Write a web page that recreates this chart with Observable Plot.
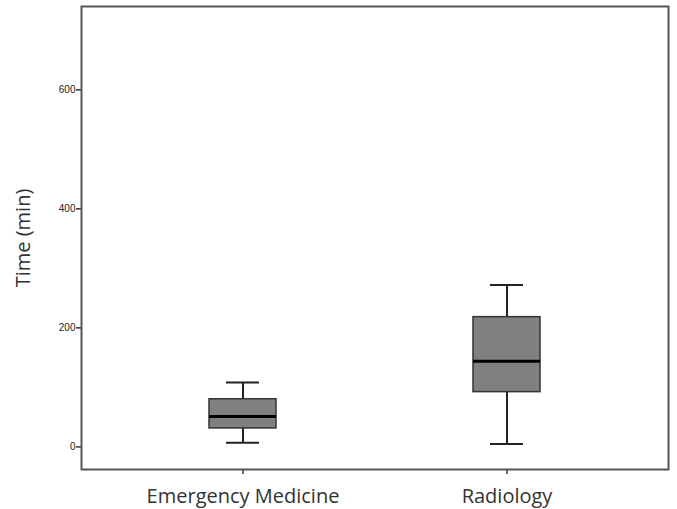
<!DOCTYPE html>
<html>
<head>
<meta charset="utf-8">
<script src="https://cdn.jsdelivr.net/npm/d3@7"></script>
<script src="https://cdn.jsdelivr.net/npm/@observablehq/plot@0.6"></script>
<style>
  html, body { margin: 0; padding: 0; background: #fff; }
  #chart svg { display: block; }
</style>
</head>
<body>
<div id="chart"></div>
<script>
const categories = ["Emergency Medicine", "Radiology"];
const whiskerLow = [7, 5];
const q1 = [31, 92];
const median = [51, 144];
const q3 = [80, 218];
const whiskerHigh = [108, 272];
const yTicks = [0, 200, 400, 600];
const yLabel = "Time (min)";

const data = categories.map((c, i) => ({
  cat: c, lo: whiskerLow[i], q1: q1[i], med: median[i], q3: q3[i], hi: whiskerHigh[i]
}));

const chart = Plot.plot({
  width: 677,
  height: 509,
  marginLeft: 81,
  marginRight: 9,
  marginTop: 6,
  marginBottom: 40,
  style: { fontFamily: "Liberation Sans, Arial, sans-serif", background: "#fff" },
  x: { type: "band", domain: categories, paddingInner: 0.747, paddingOuter: 0.483, align: 0.5 },
  y: { domain: [-38, 740] },
  marks: [
    Plot.ruleX(data, { x: "cat", y1: "lo", y2: "q1", stroke: "#222", strokeWidth: 2 }),
    Plot.ruleX(data, { x: "cat", y1: "q3", y2: "hi", stroke: "#222", strokeWidth: 2 }),
    Plot.tickY(data, { x: "cat", y: "lo", stroke: "#222", strokeWidth: 2, insetLeft: 17, insetRight: 17 }),
    Plot.tickY(data, { x: "cat", y: "hi", stroke: "#222", strokeWidth: 2, insetLeft: 17, insetRight: 17 }),
    Plot.barY(data, { x: "cat", y1: "q1", y2: "q3", fill: "#808080", stroke: "#333", strokeWidth: 1.5 }),
    Plot.tickY(data, { x: "cat", y: "med", stroke: "#000", strokeWidth: 3 }),
    Plot.axisY({ ticks: yTicks, tickFormat: d3.format("d"), tickSize: 5, tickPadding: 1, fontSize: 10, label: null, fill: "#222", stroke: "#333", strokeWidth: 1.5 }),
    Plot.axisX({ tickSize: 5, tickPadding: 14, fontSize: 20, label: null, fontFamily: "Open Sans, sans-serif", fill: "#333", stroke: "#333", strokeWidth: 1.5 }),
    Plot.text([yLabel], { frameAnchor: "left", textAnchor: "middle", dx: -58, rotate: -90, fontSize: 20, fontFamily: "Open Sans, sans-serif", fill: "#333" }),
    Plot.frame({ stroke: "#555", strokeWidth: 2 })
  ]
});
document.getElementById("chart").appendChild(chart);
</script>
</body>
</html>
